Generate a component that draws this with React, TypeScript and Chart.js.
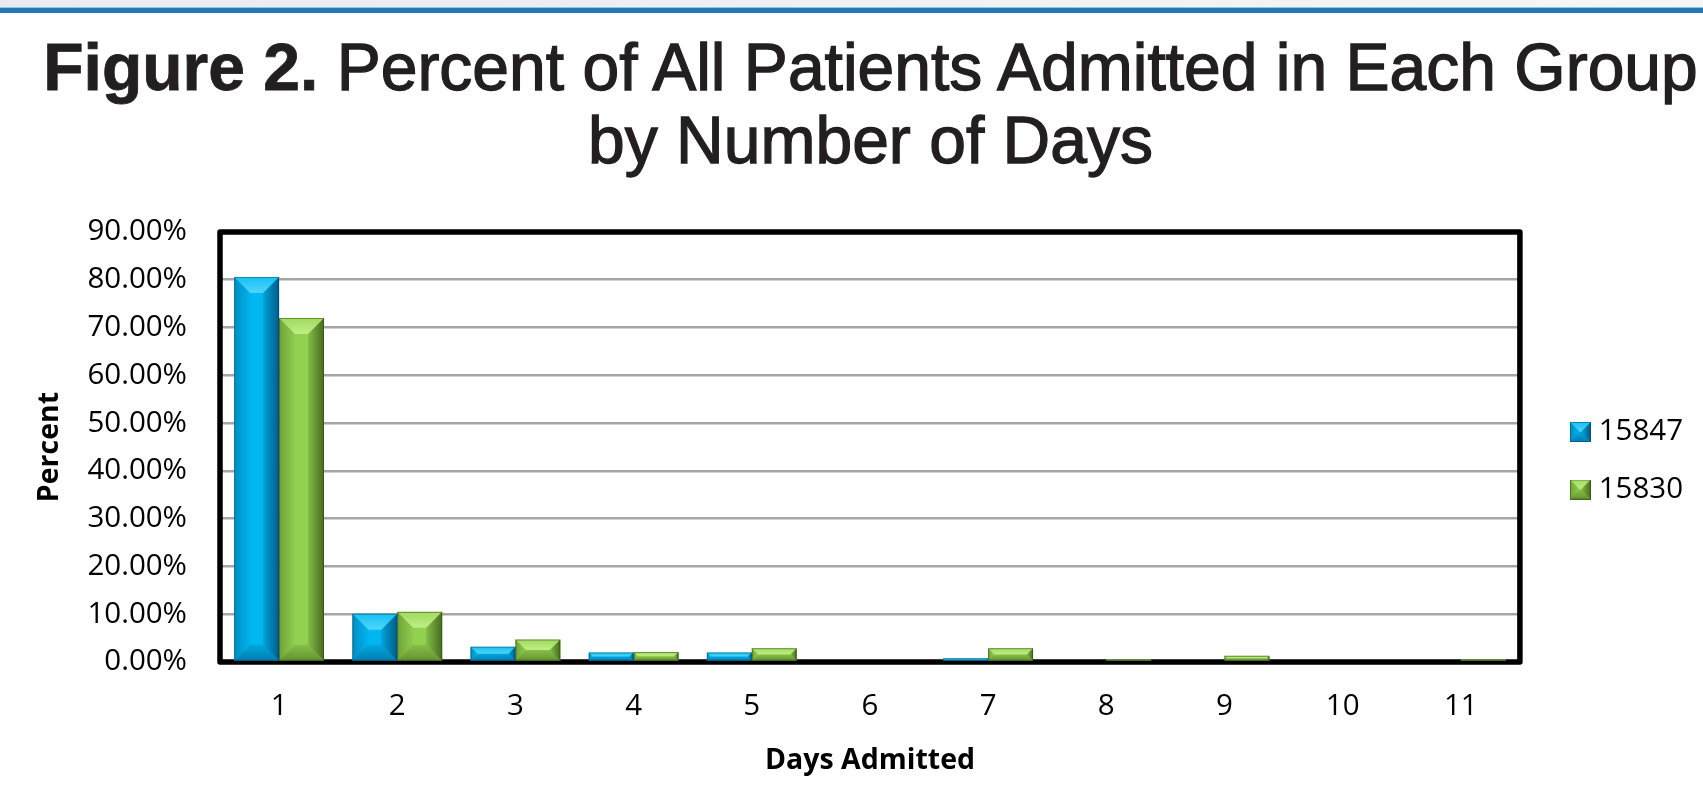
import React, { useEffect, useRef } from 'react';
import { Chart, registerables } from 'chart.js';

Chart.register(...registerables);

// ---- data ----
const days = ['1', '2', '3', '4', '5', '6', '7', '8', '9', '10', '11'];
const seriesNames = ['15847', '15830'];
const group15847 = [80.6, 10.1, 3.2, 2.0, 2.0, 0, 0.8, 0, 0, 0, 0];
const group15830 = [72.0, 10.5, 4.7, 2.1, 2.9, 0, 2.9, 0.6, 1.3, 0, 0.6];
const yMax = 90;
const yStep = 10;
const titleBold = 'Figure 2.';
const titleRest = 'Percent of All Patients Admitted in Each Group';
const titleLine2 = 'by Number of Days';
const xTitle = 'Days Admitted';
const yTitle = 'Percent';

// ---- styles ----
const seriesColors = ['#00b6f0', '#92d050'];
const seriesShades = [
  { light: '120,230,255', dark: '0,35,70', edge: 'rgba(0,60,100,0.45)' },
  { light: '215,255,160', dark: '25,45,0', edge: 'rgba(40,70,10,0.5)' },
];
const tickFont = { family: '"Open Sans", "Noto Sans", sans-serif', size: 29.5 };
const axisTitleFont = { family: '"Open Sans", "Noto Sans", sans-serif', size: 28.5, weight: 'bold' as const };

function bevel(ctx: CanvasRenderingContext2D, l: number, t: number, r: number, b: number, s: number, sh: any) {
  const lg = (x0: number, y0: number, x1: number, y1: number, c0: string, c1: string) => {
    const g = ctx.createLinearGradient(x0, y0, x1, y1);
    g.addColorStop(0, c0);
    g.addColorStop(1, c1);
    return g;
  };
  const poly = (pts: number[][], fill: any) => {
    ctx.beginPath();
    ctx.moveTo(pts[0][0], pts[0][1]);
    for (let i = 1; i < pts.length; i++) ctx.lineTo(pts[i][0], pts[i][1]);
    ctx.closePath();
    ctx.fillStyle = fill;
    ctx.fill();
  };
  const L = sh.light;
  const D = sh.dark;
  poly([[l, t], [r, t], [r - s, t + s], [l + s, t + s]], lg(0, t, 0, t + s, `rgba(${L},0.2)`, `rgba(${L},0.65)`));
  poly([[r, t], [r, b], [r - s, b - s], [r - s, t + s]], lg(r - s, 0, r, 0, `rgba(${D},0.12)`, `rgba(${D},0.62)`));
  poly([[l, b], [r, b], [r - s, b - s], [l + s, b - s]], lg(0, b - s, 0, b, `rgba(${D},0.1)`, `rgba(${D},0.38)`));
  poly([[l, t], [l, b], [l + s, b - s], [l + s, t + s]], lg(l, 0, l + s, 0, `rgba(${D},0.28)`, `rgba(${D},0.02)`));
  ctx.strokeStyle = sh.edge;
  ctx.lineWidth = 1;
  ctx.strokeRect(l + 0.5, t + 0.5, r - l - 1, b - t - 1);
}

const framePlugin = {
  id: 'frame',
  beforeDatasetsDraw(chart: any) {
    const { ctx, chartArea } = chart;
    ctx.save();
    ctx.strokeStyle = '#000';
    ctx.lineWidth = 5.5;
    ctx.lineJoin = 'round';
    ctx.strokeRect(chartArea.left, chartArea.top, chartArea.right - chartArea.left, chartArea.bottom - chartArea.top);
    ctx.restore();
  },
};

const bevelPlugin = {
  id: 'bevelBars',
  afterDatasetsDraw(chart: any) {
    const ctx = chart.ctx;
    chart.data.datasets.forEach((_ds: any, i: number) => {
      const meta = chart.getDatasetMeta(i);
      if (meta.hidden) return;
      meta.data.forEach((el: any) => {
        const { x, y, base, width } = el.getProps(['x', 'y', 'base', 'width'], true);
        const l = x - width / 2;
        const r = x + width / 2;
        const t = Math.min(y, base);
        const b = Math.max(y, base);
        const h = b - t;
        if (h < 1) return;
        const s = Math.min(16, h / 2, width / 2);
        ctx.save();
        bevel(ctx, l, t, r, b, s, seriesShades[i]);
        ctx.restore();
      });
    });
  },
};

function makeSwatch(i: number) {
  const c = document.createElement('canvas');
  c.width = 50;
  c.height = 20;
  const g = c.getContext('2d') as CanvasRenderingContext2D;
  g.fillStyle = seriesColors[i];
  g.fillRect(29, 0, 21, 20);
  bevel(g, 29, 0, 50, 20, 10, seriesShades[i]);
  return c;
}

export default function App() {
  const canvasRef = useRef<HTMLCanvasElement | null>(null);

  useEffect(() => {
    if (!canvasRef.current) return;
    const swatches = [makeSwatch(0), makeSwatch(1)];
    const chart = new Chart(canvasRef.current, {
      type: 'bar',
      data: {
        labels: days,
        datasets: [
          { label: seriesNames[0], data: group15847, backgroundColor: seriesColors[0], borderWidth: 0, categoryPercentage: 0.76, barPercentage: 1 },
          { label: seriesNames[1], data: group15830, backgroundColor: seriesColors[1], borderWidth: 0, categoryPercentage: 0.76, barPercentage: 1 },
        ],
      },
      options: {
        responsive: false,
        animation: false,
        devicePixelRatio: 1,
        layout: { padding: { top: 52, bottom: 21, left: 0, right: 10 } },
        plugins: {
          tooltip: { enabled: false },
          legend: {
            position: 'right',
            fullSize: false,
            title: { display: true, text: '', font: { size: 10 }, padding: { top: 15.5, bottom: 0 } },
            labels: {
              usePointStyle: true,
              pointStyleWidth: 36,
              padding: 28,
              color: '#000',
              font: tickFont,
              generateLabels: (c: any) => {
                const items = (Chart.defaults.plugins.legend.labels.generateLabels as any)(c);
                items.forEach((it: any, i: number) => {
                  it.pointStyle = swatches[i];
                });
                return items;
              },
            },
          },
        },
        scales: {
          x: {
            grid: { display: false, drawTicks: false },
            border: { display: false },
            ticks: { color: '#000', font: tickFont, padding: 27 },
            title: { display: true, text: xTitle, color: '#000', font: axisTitleFont, padding: { top: 0, bottom: 4 } },
            afterFit: (s: any) => {
              s.height = 120;
            },
          },
          y: {
            min: 0,
            max: yMax,
            grid: { color: '#a6a6a6', lineWidth: 2.6, drawTicks: false },
            border: { display: false },
            ticks: {
              stepSize: yStep,
              color: '#000',
              font: tickFont,
              padding: 33,
              callback: (v: any) => Number(v).toFixed(2) + '%',
            },
            title: { display: true, text: yTitle, color: '#000', font: axisTitleFont, padding: { top: 33, bottom: 0 } },
            afterFit: (s: any) => {
              s.width = 220;
            },
          },
        },
      } as any,
      plugins: [framePlugin, bevelPlugin],
    });
    return () => chart.destroy();
  }, []);

  return (
    <div style={{ position: 'absolute', left: 0, top: 0, width: 1703, height: 803, background: '#fff', overflow: 'hidden' }}>
      <div style={{ position: 'absolute', left: 0, top: 0, width: 1703, height: 7, background: 'linear-gradient(to right, #e8ecef, #f5f6f7)' }} />
      <div style={{ position: 'absolute', left: 0, top: 7, width: 1703, height: 1, background: '#9cc3de' }} />
      <div style={{ position: 'absolute', left: 0, top: 8, width: 1703, height: 5, background: '#2178b4' }} />
      <div
        style={{
          position: 'absolute',
          top: 31,
          left: 38,
          width: 1665,
          textAlign: 'center',
          fontFamily: '"Liberation Sans", Arial, Helvetica, sans-serif',
          fontSize: 66,
          lineHeight: '73px',
          color: '#231f20',
          whiteSpace: 'nowrap',
          WebkitTextStroke: '1.3px #231f20',
        }}
      >
        <span style={{ fontWeight: 'bold', WebkitTextStroke: '0.8px #231f20' }}>{titleBold}</span> {titleRest}
        <br />
        {titleLine2}
      </div>
      <canvas
        ref={canvasRef}
        width={1703}
        height={623}
        style={{ position: 'absolute', left: 0, top: 180, width: 1703, height: 623 }}
      />
    </div>
  );
}
